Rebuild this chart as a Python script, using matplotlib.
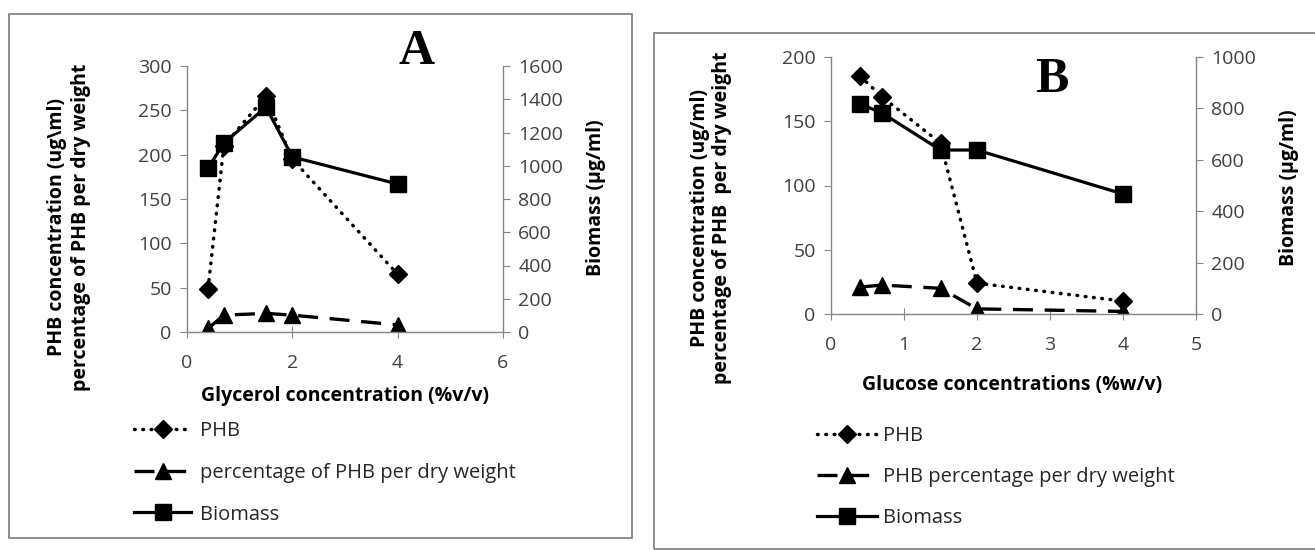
import matplotlib
matplotlib.use("Agg")
import matplotlib.pyplot as plt
from matplotlib.patches import Rectangle

W, H = 1315, 550

# panel A: glycerol
glycerol_x = [0.4, 0.7, 1.5, 2, 4]
glycerol_phb = [49, 210, 266, 195, 65]
glycerol_pct = [4, 19, 21, 19, 8]
glycerol_biomass = [986, 1137, 1353, 1053, 890]

# panel B: glucose
glucose_x = [0.4, 0.7, 1.5, 2, 4]
glucose_phb = [185, 169, 133, 24, 10]
glucose_pct = [21, 22.5, 20, 4, 2]
glucose_biomass = [817, 782, 638, 638, 467]

plt.rcParams["font.family"] = ["Open Sans", "DejaVu Sans"]
GRAY = "#868686"
TICKC = "#404040"


def fx(x):
    return x / W


def fy(y):
    return 1 - y / H


def box(x0, y0, x1, y1):
    return [fx(x0), fy(y1), fx(x1) - fx(x0), fy(y0) - fy(y1)]


fig = plt.figure(figsize=(W / 100, H / 100), dpi=100)

# panel borders
fig.patches.append(Rectangle((fx(9), fy(538)), fx(632) - fx(9), fy(14) - fy(538),
                             transform=fig.transFigure, fill=False, ec=GRAY, lw=1.3))
fig.patches.append(Rectangle((fx(654), fy(549)), fx(1330) - fx(654), fy(33) - fy(549),
                             transform=fig.transFigure, fill=False, ec=GRAY, lw=1.3))


def panel(rect, x, phb, pct, bio, xmax, ymax, ystep, y2max, y2step):
    ax = fig.add_axes(rect)
    ax2 = ax.twinx()
    for a in (ax, ax2):
        a.set_facecolor("none")
        a.spines["top"].set_visible(False)
        for s in ("left", "right", "bottom"):
            a.spines[s].set_color(GRAY)
            a.spines[s].set_linewidth(1.0)
    ax.spines["right"].set_visible(False)
    ax2.spines["left"].set_visible(False)
    ax2.spines["bottom"].set_visible(False)

    l1, = ax.plot(x, phb, color="black", lw=2.5, linestyle=(0, (0.2, 2.2)),
                  marker="D", markersize=9, dash_capstyle="round")
    l2, = ax.plot(x, pct, color="black", lw=2.4, linestyle=(0, (6, 3.5)),
                  marker="^", markersize=11.5)
    l3, = ax2.plot(x, bio, color="black", lw=2.3, marker="s", markersize=12)

    ax.set_xlim(0, xmax)
    ax.set_ylim(0, ymax)
    ax2.set_ylim(0, y2max)
    ax.set_xticks(range(0, xmax + 1, 2 if xmax == 6 else 1))
    ax.set_yticks(range(0, ymax + 1, ystep))
    ax2.set_yticks(range(0, y2max + 1, y2step))
    ax.tick_params(axis="x", direction="inout", length=9, color=GRAY,
                   labelcolor=TICKC, labelsize=14, pad=11)
    ax.tick_params(axis="y", direction="out", length=5, color=GRAY,
                   labelcolor=TICKC, labelsize=14, pad=6)
    ax2.tick_params(axis="y", direction="out", length=5, color=GRAY,
                    labelcolor=TICKC, labelsize=14, pad=6)
    return ax, ax2, [l1, l2, l3]


axA, axA2, linesA = panel(box(187, 66, 503, 332), glycerol_x, glycerol_phb,
                          glycerol_pct, glycerol_biomass, 6, 300, 50, 1600, 200)
axB, axB2, linesB = panel(box(831, 57, 1196, 314), glucose_x, glucose_phb,
                          glucose_pct, glucose_biomass, 5, 200, 50, 1000, 200)

# axis titles
lab = dict(fontsize=14, fontweight="bold", color="black")
fig.text(fx(69), fy(227), "PHB concentration (ug\\ml)\npercentage of PHB per dry weight",
         rotation=90, ha="center", va="center", multialignment="center",
         linespacing=1.3, **lab)
fig.text(fx(596), fy(198), "Biomass (µg/ml)", rotation=90, ha="center", va="center", **lab)
fig.text(fx(345), fy(396), "Glycerol concentration (%v/v)", ha="center", va="center", **lab)

fig.text(fx(711), fy(218), "PHB concentration (ug/ml)\npercentage of PHB  per dry weight",
         rotation=90, ha="center", va="center", multialignment="center",
         linespacing=1.1, **lab)
fig.text(fx(1289), fy(188), "Biomass (µg/ml)", rotation=90, ha="center", va="center", **lab)
fig.text(fx(1012), fy(385), "Glucose concentrations (%w/v)", ha="center", va="center", **lab)

# panel letters
fig.text(fx(417), fy(52), "A", fontsize=36, fontweight="bold",
         family="Liberation Serif", ha="center", va="center")
fig.text(fx(1052), fy(80), "B", fontsize=36, fontweight="bold",
         family="Liberation Serif", ha="center", va="center")

# legends below each panel
legA = fig.legend(linesA, ["PHB", "percentage of PHB per dry weight", "Biomass"],
                  loc="upper left", bbox_to_anchor=(fx(134), fy(421)),
                  frameon=False, fontsize=14.5, handlelength=2.85, handletextpad=0.45,
                  labelspacing=1.08, borderpad=0, borderaxespad=0, numpoints=1)
for t in legA.get_texts():
    t.set_color("#262626")
legB = fig.legend(linesB, ["PHB", "PHB percentage per dry weight", "Biomass"],
                  loc="upper left", bbox_to_anchor=(fx(817), fy(426)),
                  frameon=False, fontsize=14.5, handlelength=3.0, handletextpad=0.3,
                  labelspacing=1.05, borderpad=0, borderaxespad=0, numpoints=1)
for t in legB.get_texts():
    t.set_color("#262626")

fig.savefig("out.png", dpi=100)
